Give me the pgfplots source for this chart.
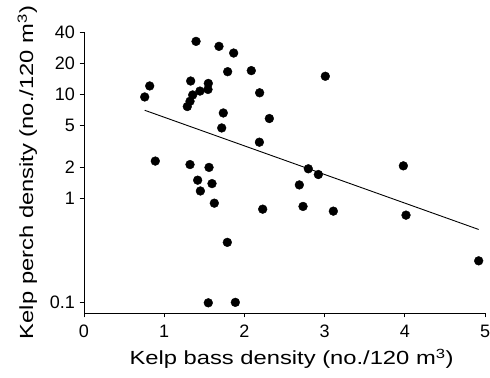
\documentclass[border=0pt]{standalone}
\usepackage{pgfplots}
\pgfplotsset{compat=1.18}
\usepackage{fontspec}
\setmainfont{Liberation Sans}
\newfontfamily\widefont[FakeStretch=1.25]{Liberation Sans}
\begin{document}
\begin{tikzpicture}
\begin{axis}[
  name=ax,
  scale only axis,
  width=401pt, height=281pt,
  xmin=0, xmax=5,
  ymode=log, ymin=0.079, ymax=40,
  axis lines=left,
  axis line style={-, line width=0.9pt},
  xtick={0,1,2,3,4,5},
  ytick={0.1,1,2,5,10,20,40},
  yticklabels={0.1,1,2,5,10,20,40},
  minor tick num=0,
  yminorticks=false,
  tick align=outside,
  major tick length=4.5pt,
  tick style={line width=0.8pt, black},
  /pgf/number format/assume math mode=true,
  ticklabel style={font=\fontsize{18}{20}\selectfont},
  yticklabel style={xshift=-1pt},
  xticklabel style={yshift=-4pt},
  xlabel={Kelp bass density (no./120 m\textsuperscript{3})},
  ylabel={Kelp perch density (no./120 m\textsuperscript{3})},
  xlabel style={font=\widefont\fontsize{19}{22}\selectfont, at={(rel axis cs:0.5175,-0.185)}, anchor=base},
  ylabel style={font=\widefont\fontsize{19}{22}\selectfont, at={(rel axis cs:-0.127,0.5)}, anchor=base},
  clip=false,
]
\addplot[only marks, mark=*, mark size=4.4pt, black] coordinates {
(1.397,32.5) (1.683,29.1) (1.866,25.1) (1.791,16.6) (2.086,17.0) (3.009,15.0)
(0.819,12.1) (0.757,9.48) (1.330,13.5) (1.550,12.8) (1.546,11.2) (1.446,10.8)
(1.355,9.91) (1.322,8.62) (1.288,7.67) (2.190,10.4) (1.737,6.65) (1.717,4.77)
(2.311,5.88) (2.187,3.48) (0.889,2.29) (1.322,2.12) (1.559,1.99) (1.417,1.50)
(1.596,1.39) (1.451,1.18) (1.625,0.901) (2.228,0.789) (1.787,0.378) (1.550,0.099)
(1.887,0.100) (2.797,1.93) (2.922,1.70) (2.685,1.35) (2.731,0.838) (3.109,0.755)
(3.982,2.06) (4.015,0.691) (4.921,0.251)
};
\addplot[black, line width=0.9pt] coordinates {(0.757,7.06) (4.921,0.503)};
\end{axis}
\pgfresetboundingbox
\path ([xshift=-84pt,yshift=-64pt]ax.south west) rectangle ([xshift=5pt,yshift=32pt]ax.north east);
\end{tikzpicture}
\end{document}
